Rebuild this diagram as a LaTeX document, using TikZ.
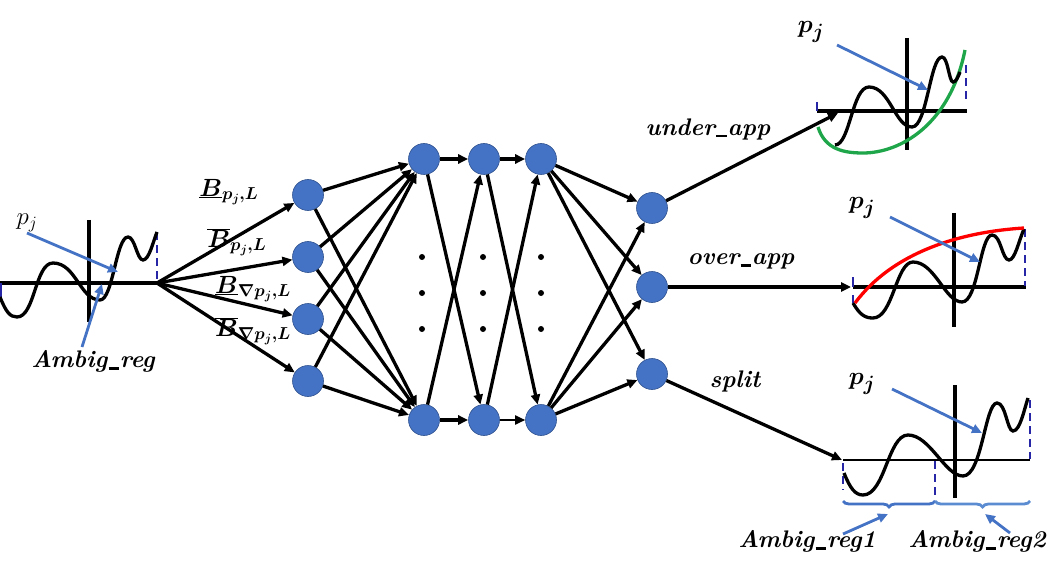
\documentclass[tikz,border=0pt]{standalone}
\usepackage{bm}
\usetikzlibrary{arrows.meta,decorations.pathreplacing}
\definecolor{nodeblue}{HTML}{4472C4}
\definecolor{nodeedge}{HTML}{2F528F}
\definecolor{dashblue}{HTML}{2626A6}
\definecolor{arrblue}{HTML}{4472C4}
\definecolor{lightblue}{HTML}{5B8BD0}
\definecolor{curvegreen}{HTML}{1FA64A}
\newcommand{\usc}{\kern0.05em\rule[-0.1em]{0.42em}{0.09em}\kern0.05em}
\begin{document}
\begin{tikzpicture}[x=1pt,y=-1pt,
  neuron/.style={circle,fill=nodeblue,draw=nodeedge,line width=0.6pt,minimum size=31pt,inner sep=0pt},
  edge/.style={line width=3.3pt,-{Triangle[length=10pt,width=9pt]}},
  thinedge/.style={line width=1.8pt,-{Triangle[length=10pt,width=9pt]}},
  bluearr/.style={draw=arrblue,line width=2.8pt,-{Triangle[length=10pt,width=9pt]}},
  axis/.style={line width=3.3pt,black},
  wave/.style={line width=3.3pt,black},
  dashb/.style={draw=dashblue,line width=2.8pt,dash pattern=on 8pt off 5pt},
  lbl/.style={font=\fontsize{24}{26}\selectfont\bfseries\itshape,inner sep=0pt},
  mlbl/.style={font=\fontsize{24}{28}\selectfont\boldmath,inner sep=0pt},
  plbl/.style={font=\fontsize{28}{30}\selectfont\boldmath,inner sep=0pt},
  edot/.style={circle,fill=black,inner sep=0pt,minimum size=6pt}
]
\useasboundingbox (0,0) rectangle (1051,577);

% ---------- left function plot ----------
\coordinate (hub) at (157,283);
\draw[axis] (0,283) -- (hub);
\draw[axis] (89,220) -- (89,322);
\draw[dashb] (157,232) -- (157,280);
\draw[draw=dashblue,line width=2.8pt] (1,283) -- (1,300);
\draw[wave] (0,297) .. controls (6,312) and (10,317) .. (17,317)
  .. controls (35,317) and (35,263) .. (53,263)
  .. controls (76,263) and (80,300) .. (100,300)
  .. controls (113,300) and (116,237) .. (128,237)
  .. controls (135,237) and (137,260) .. (143,260)
  .. controls (149,260) and (153,242) .. (157,232);
\node[font=\fontsize{25}{28}\selectfont,inner sep=0pt] (pjL) at (27,223) {$p_j$};
\coordinate (pjLs) at (27,233);
\coordinate (pjLt) at (118,272);
\draw[bluearr] (pjLs) -- (pjLt);
\node[lbl] (amb) at (93,361) {Ambig\usc reg};
\coordinate (ambs) at (82,347);
\coordinate (ambt) at (102,284);
\draw[bluearr] (ambs) -- (ambt);

% ---------- neurons ----------
\node[neuron] (a1) at (308,195) {};
\node[neuron] (a2) at (308,257) {};
\node[neuron] (a3) at (308,319) {};
\node[neuron] (a4) at (308,381) {};
\node[neuron] (b1) at (424,159) {};
\node[neuron] (b2) at (424,420) {};
\node[neuron] (c1) at (484,159) {};
\node[neuron] (c2) at (484,420) {};
\node[neuron] (d1) at (541,159) {};
\node[neuron] (d2) at (541,420) {};
\node[neuron] (e1) at (652,208) {};
\node[neuron] (e2) at (652,287) {};
\node[neuron] (e3) at (652,374) {};

\foreach \x/\n in {422/p,483/q,541/r}{
  \node[edot] (\n1) at (\x,257) {};
  \node[edot] (\n2) at (\x,293) {};
  \node[edot] (\n3) at (\x,329) {};
}

% hub to first layer
\foreach \t in {a1,a2,a3,a4} \draw[edge] (hub) -- (\t);
\node[mlbl] (l1) at (229,192) {$\underline{\bm{B}}_{\bm{p_j,L}}$};
\node[mlbl] (l2) at (237,242) {$\overline{\bm{B}}_{\bm{p_j,L}}$};
\node[mlbl] (l3) at (253,289) {$\underline{\bm{B}}_{\bm{\nabla p_j,L}}$};
\node[mlbl] (l4) at (253,331) {$\overline{\bm{B}}_{\bm{\nabla p_j,L}}$};

% layer 1 -> layer 2
\foreach \s in {a1,a2,a3,a4}{
  \draw[edge] (\s) -- (b1);
  \draw[edge] (\s) -- (b2);
}
% layer 2 -> 3
\draw[edge] (b1) -- (c1);
\draw[edge] (b1) -- (c2);
\draw[edge] (b2) -- (c1);
\draw[edge] (b2) -- (c2);
% layer 3 -> 4
\draw[edge] (c1) -- (d1);
\draw[edge] (c1) -- (d2);
\draw[edge] (c2) -- (d1);
\draw[thinedge] (c2) -- (d2);
% layer 4 -> 5
\foreach \t in {e1,e2,e3}{
  \draw[edge] (d1) -- (\t);
  \draw[edge] (d2) -- (\t);
}

% ---------- outputs ----------
\coordinate (ua) at (838,113);
\coordinate (oa) at (851,287);
\coordinate (sa) at (842,460);
\draw[edge] (e1) -- (ua);
\draw[edge] (e2) -- (oa);
\draw[edge] (e3) -- (sa);
\node[lbl] (under) at (708,129) {under\usc app};
\node[lbl] (over) at (741,261) {over\usc app};
\node[lbl] (split) at (735,381) {split};

% ---------- top right plot (under approximation) ----------
\draw[axis] (817,111) -- (967,111);
\draw[axis] (907,38) -- (907,150);
\draw[draw=dashblue,line width=2.8pt] (817,102) -- (817,111);
\draw[dashb] (966,65) -- (966,101);
\draw[line width=3.3pt,curvegreen] (818,127) .. controls (825,150) and (845,153) .. (863,153)
  .. controls (900,153) and (950,125) .. (965,50);
\draw[wave] (835,145) .. controls (850,145) and (852,87) .. (869,87)
  .. controls (890,87) and (895,127) .. (912,127)
  .. controls (927,127) and (930,57) .. (942,57)
  .. controls (948,57) and (949,82) .. (953,82)
  .. controls (956,82) and (958,77) .. (960,72);
\node[plbl] (pj1) at (811,32) {$p_j$};
\coordinate (pj1s) at (837,45);
\coordinate (pj1t) at (928,90);
\draw[bluearr] (pj1s) -- (pj1t);

% ---------- middle right plot (over approximation) ----------
\draw[axis] (853,287) -- (1026,287);
\draw[axis] (954,213) -- (954,327);
\draw[draw=dashblue,line width=2.8pt] (853,277) -- (853,287);
\draw[draw=dashblue,line width=2.8pt] (853,295) -- (853,303);
\draw[dashb] (1025,229) -- (1025,286);
\draw[wave] (853,303) .. controls (860,315) and (865,318) .. (873,318)
  .. controls (893,318) and (896,262) .. (913,262)
  .. controls (935,262) and (945,302) .. (962,302)
  .. controls (978,302) and (980,235) .. (992,235)
  .. controls (1001,235) and (1002,260) .. (1009,260)
  .. controls (1015,260) and (1019,240) .. (1024,229);
\draw[line width=3.3pt,red] (855,303) .. controls (893,252) and (960,232) .. (1024,228);
\node[plbl] (pj2) at (862,208) {$p_j$};
\coordinate (pj2s) at (890,217);
\coordinate (pj2t) at (980,262);
\draw[bluearr] (pj2s) -- (pj2t);

% ---------- bottom right plot (split) ----------
\draw[line width=2.4pt] (843,460) -- (1030,460);
\draw[axis] (955,385) -- (955,498);
\draw[dashb] (843,463) -- (843,490);
\draw[dashb] (935,461) -- (935,500);
\draw[dashb] (1030,400) -- (1030,459);
\draw[wave] (844,473) .. controls (850,488) and (855,495) .. (863,495)
  .. controls (885,495) and (888,435) .. (908,435)
  .. controls (930,435) and (945,476) .. (963,476)
  .. controls (982,476) and (985,403) .. (997,403)
  .. controls (1006,403) and (1007,431) .. (1013,431)
  .. controls (1020,431) and (1024,410) .. (1028,398);
\node[plbl] (pj3) at (862,384) {$p_j$};
\coordinate (pj3s) at (892,389);
\coordinate (pj3t) at (982,433);
\draw[bluearr] (pj3s) -- (pj3t);
\coordinate (br1a) at (843,501);
\coordinate (br1b) at (935,501);
\coordinate (br2b) at (1030,501);
\draw[arrblue,line width=2.8pt,decorate,decoration={brace,mirror,amplitude=6pt}] (br1a) -- (br1b);
\draw[lightblue,line width=2.8pt,decorate,decoration={brace,mirror,amplitude=6pt}] (br1b) -- (br2b);
\node[lbl] (amb1) at (807,541) {Ambig\usc reg1};
\node[lbl] (amb2) at (977,541) {Ambig\usc reg2};
\coordinate (amb1s) at (843,534);
\coordinate (amb1t) at (888,514);
\coordinate (amb2s) at (1010,533);
\coordinate (amb2t) at (985,514);
\draw[bluearr] (amb1s) -- (amb1t);
\draw[bluearr] (amb2s) -- (amb2t);
\end{tikzpicture}
\end{document}
